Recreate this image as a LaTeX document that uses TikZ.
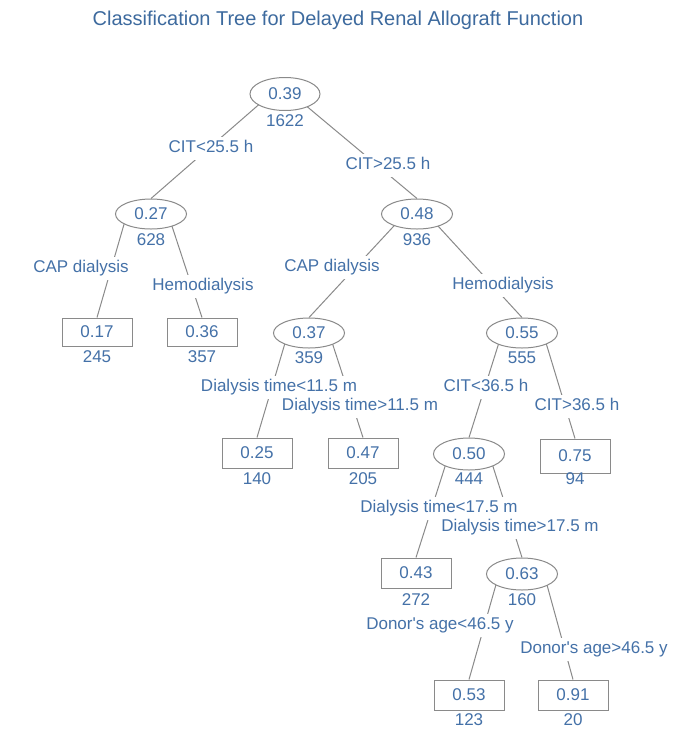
\documentclass[tikz,border=0pt]{standalone}
\usepackage{fontspec}
\setmainfont{Liberation Sans}[Ligatures=TeXOff]
\usetikzlibrary{shapes.geometric}
\definecolor{tblue}{HTML}{4471A8}
\definecolor{ttitle}{HTML}{3D6A9E}
\definecolor{lgray}{HTML}{8A8A8A}
\pgfdeclarelayer{background}
\pgfsetlayers{background,main}
\tikzset{
  txt/.style={text=tblue, font=\fontsize{17}{17}\selectfont},
  enode/.style={ellipse, draw=lgray, fill=white, line width=1pt, minimum width=71pt, minimum height=30pt, inner sep=0pt, txt},
  bnode/.style={rectangle, draw=lgray, fill=white, line width=1pt, minimum width=70pt, minimum height=30pt, inner sep=0pt, txt},
  cond/.style={txt, fill=white, inner xsep=2pt, inner ysep=3.5pt, text height=12.5pt, text depth=3.5pt},
  cnt/.style={txt, inner sep=0pt},
  branch/.style={draw=lgray, line width=1pt}
}
\begin{document}
\begin{tikzpicture}[x=1pt,y=-1pt]
\useasboundingbox (0,0) rectangle (688,729);
% title
\node[text=ttitle, font=\fontsize{20}{20}\selectfont] (title) at (338,20) {Classification Tree for Delayed Renal Allograft Function};
% split nodes
\node[enode, minimum height=33pt, minimum width=70pt] (n039) at (285,94) {0.39};
\node[enode] (n027) at (151,214) {0.27};
\node[enode] (n048) at (417,214) {0.48};
\node[enode] (n037) at (309,333) {0.37};
\node[enode] (n055) at (522,333) {0.55};
\node[enode, minimum height=32pt] (n050) at (469,454) {0.50};
\node[enode, minimum height=32pt] (n063) at (522,574) {0.63};
% leaves
\node[bnode, minimum height=28pt] (l017) at (97,332) {0.17};
\node[bnode, minimum height=28pt] (l036) at (202,332) {0.36};
\node[bnode] (l025) at (257,453) {0.25};
\node[bnode] (l047) at (363,453) {0.47};
\node[bnode, minimum height=34pt] (l075) at (575,456) {0.75};
\node[bnode] (l043) at (416,573) {0.43};
\node[bnode] (l053) at (469,695) {0.53};
\node[bnode] (l091) at (573,695) {0.91};
% counts
\node[cnt] (c039) at (285,121) {1622};
\node[cnt] (c027) at (151,240) {628};
\node[cnt] (c048) at (417,240) {936};
\node[cnt] (c017) at (97,357) {245};
\node[cnt] (c036) at (202,357) {357};
\node[cnt] (c037) at (309,358) {359};
\node[cnt] (c055) at (522,358) {555};
\node[cnt] (c025) at (257,479) {140};
\node[cnt] (c047) at (363,479) {205};
\node[cnt] (c050) at (469,479) {444};
\node[cnt] (c075) at (575,479) {94};
\node[cnt] (c043) at (416,600) {272};
\node[cnt] (c063) at (522,600) {160};
\node[cnt] (c053) at (469,720) {123};
\node[cnt] (c091) at (573,720) {20};
% split conditions
\node[cond] (t1) at (211,148) {CIT<25.5 h};
\node[cond] (t2) at (388,165) {CIT>25.5 h};
\node[cond] (t3) at (81,268) {CAP dialysis};
\node[cond] (t4) at (203,286) {Hemodialysis};
\node[cond] (t5) at (332,267) {CAP dialysis};
\node[cond] (t6) at (503,285) {Hemodialysis};
\node[cond] (t7) at (279,387) {Dialysis time<11.5 m};
\node[cond] (t8) at (360,406) {Dialysis time>11.5 m};
\node[cond] (t9) at (486,387) {CIT<36.5 h};
\node[cond] (t10) at (577,406) {CIT>36.5 h};
\node[cond] (t11) at (439,508) {Dialysis time<17.5 m};
\node[cond] (t12) at (520,527) {Dialysis time>17.5 m};
\node[cond] (t13) at (440,625) {Donor's age<46.5 y};
\node[cond] (t14) at (594,649) {Donor's age>46.5 y};
% branches
\begin{pgfonlayer}{background}
\fill[white] (0,0) rectangle (688,729);
\draw[branch] ([xshift=-14pt]n039.center) -- (n027.north);
\draw[branch] ([xshift=7pt]n039.center) -- (n048.north);
\draw[branch] ([xshift=-24pt]n027.center) -- (l017.north);
\draw[branch] ([xshift=17pt]n027.center) -- (l036.north);
\draw[branch] ([xshift=-12pt]n048.center) -- (n037.north);
\draw[branch] ([xshift=10pt]n048.center) -- (n055.north);
\draw[branch] ([xshift=-21pt]n037.center) -- (l025.north);
\draw[branch] ([xshift=20pt]n037.center) -- (l047.north);
\draw[branch] ([xshift=-20pt]n055.center) -- (n050.north);
\draw[branch] ([xshift=21pt]n055.center) -- (l075.north);
\draw[branch] ([xshift=-20pt]n050.center) -- (l043.north);
\draw[branch] ([xshift=20pt]n050.center) -- (n063.north);
\draw[branch] ([xshift=-23pt]n063.center) -- (l053.north);
\draw[branch] ([xshift=22pt]n063.center) -- (l091.north);
\end{pgfonlayer}
\end{tikzpicture}
\end{document}
